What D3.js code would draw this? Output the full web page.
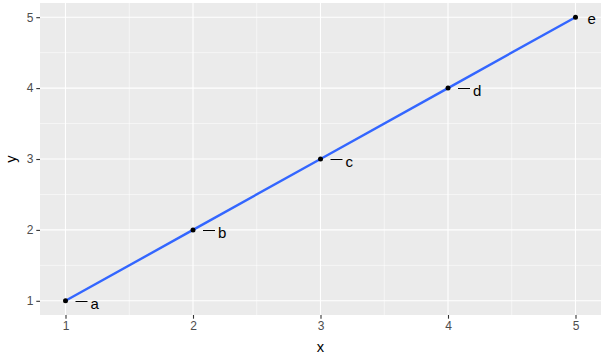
<!DOCTYPE html>
<html>
<head>
<meta charset="utf-8">
<script src="https://cdn.jsdelivr.net/npm/d3@7"></script>
<style>
  body { margin: 0; background: #fff; }
  text { font-family: "Liberation Sans", Arial, sans-serif; }
</style>
</head>
<body>
<svg></svg>
<script>
// data
var xs = [1, 2, 3, 4, 5]
var ys = [1, 2, 3, 4, 5]
var labels = ["a", "b", "c", "d", "e"]
var xTicks = [1, 2, 3, 4, 5]
var yTicks = [1, 2, 3, 4, 5]

var width = 605, height = 357
var panel = {left: 40, right: 601, top: 3, bottom: 315}

var svg = d3.select("svg")
  .attr("width", width)
  .attr("height", height)

// ggplot-like 5% expansion
var x = d3.scaleLinear().domain([0.8, 5.2]).range([panel.left, panel.right])
var y = d3.scaleLinear().domain([0.8, 5.2]).range([panel.bottom, panel.top])

svg.append("rect")
  .attr("x", panel.left)
  .attr("y", panel.top)
  .attr("width", panel.right - panel.left)
  .attr("height", panel.bottom - panel.top)
  .attr("fill", "#EBEBEB")

// minor grid
var minorX = d3.range(1.5, 5, 1)
var minorY = d3.range(1.5, 5, 1)
svg.selectAll(".minx").data(minorX).enter().append("line")
  .attr("x1", d => x(d)).attr("x2", d => x(d))
  .attr("y1", panel.top).attr("y2", panel.bottom)
  .attr("stroke", "#fff").attr("stroke-width", 0.55)
svg.selectAll(".miny").data(minorY).enter().append("line")
  .attr("y1", d => y(d)).attr("y2", d => y(d))
  .attr("x1", panel.left).attr("x2", panel.right)
  .attr("stroke", "#fff").attr("stroke-width", 0.55)

// major grid
svg.selectAll(".majx").data(xTicks).enter().append("line")
  .attr("x1", d => x(d)).attr("x2", d => x(d))
  .attr("y1", panel.top).attr("y2", panel.bottom)
  .attr("stroke", "#fff").attr("stroke-width", 1.1)
svg.selectAll(".majy").data(yTicks).enter().append("line")
  .attr("y1", d => y(d)).attr("y2", d => y(d))
  .attr("x1", panel.left).attr("x2", panel.right)
  .attr("stroke", "#fff").attr("stroke-width", 1.1)

// axes
var xAxis = svg.append("g")
  .attr("transform", "translate(0," + panel.bottom + ")")
  .call(d3.axisBottom(x).tickValues(xTicks).tickSize(3.7).tickPadding(3).tickFormat(d3.format("d")))
var yAxis = svg.append("g")
  .attr("transform", "translate(" + panel.left + ",0)")
  .call(d3.axisLeft(y).tickValues(yTicks).tickSize(3.7).tickPadding(3).tickFormat(d3.format("d")))

;[xAxis, yAxis].forEach(function(g) {
  g.select(".domain").remove()
  g.selectAll(".tick line").attr("stroke", "#333333").attr("stroke-width", 1.1)
  g.selectAll(".tick text")
    .attr("fill", "#4D4D4D")
    .style("font-size", "12px")
    .style("font-family", "'Liberation Sans', Arial, sans-serif")
})

// axis titles
svg.append("text")
  .attr("x", (panel.left + panel.right) / 2)
  .attr("y", 352)
  .attr("text-anchor", "middle")
  .style("font-size", "14.7px")
  .text("x")
svg.append("text")
  .attr("transform", "translate(16," + ((panel.top + panel.bottom) / 2) + ") rotate(-90)")
  .attr("text-anchor", "middle")
  .style("font-size", "14.7px")
  .text("y")

// fitted line
var pts = xs.map((d, i) => ({x: d, y: ys[i], label: labels[i]}))
svg.append("path")
  .datum(pts)
  .attr("fill", "none")
  .attr("stroke", "#3366FF")
  .attr("stroke-width", 2.4)
  .attr("d", d3.line().x(d => x(d.x)).y(d => y(d.y)))

// points
svg.selectAll(".pt").data(pts).enter().append("circle")
  .attr("cx", d => x(d.x))
  .attr("cy", d => y(d.y))
  .attr("r", 2.5)
  .attr("fill", "#000")

// repelled labels: segment + text to the right
pts.forEach(function(d, i) {
  var px = x(d.x), py = y(d.y)
  var last = i == pts.length - 1
  if (!last) {
    svg.append("line")
      .attr("x1", px + 10).attr("x2", px + 22)
      .attr("y1", Math.round(py) + 0.5).attr("y2", Math.round(py) + 0.5)
      .attr("stroke", "#000").attr("stroke-width", 1)
  }
  svg.append("text")
    .attr("x", last ? px + 12 : px + 25)
    .attr("y", last ? py + 7 : py + 8)
    .style("font-size", "15px")
    .attr("fill", "#000")
    .text(d.label)
})
</script>
</body>
</html>
